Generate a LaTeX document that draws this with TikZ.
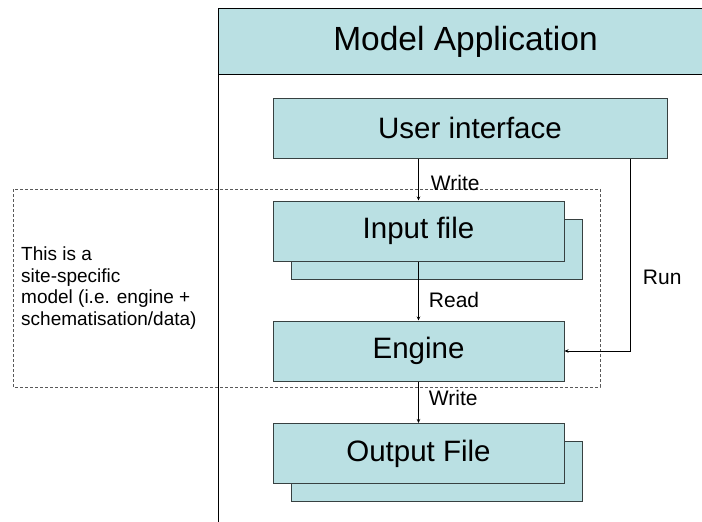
\documentclass[tikz,border=0pt]{standalone}
\usepackage{fontspec}
\setmainfont{Liberation Sans}
\usetikzlibrary{shadows,arrows.meta}
\definecolor{boxfill}{RGB}{186,224,227}
\definecolor{boxline}{RGB}{55,65,65}

\begin{document}
\begin{tikzpicture}[x=1pt,y=-1pt,>={Stealth[length=4pt,width=3.5pt]},
	headbox/.style={draw=black,fill=boxfill,line width=1pt,minimum width=494pt,minimum height=66pt,inner sep=0pt,anchor=north west,font=\fontsize{33.5}{40}\selectfont},
	filebox/.style={draw=boxline,fill=boxfill,line width=1pt,minimum width=291pt,minimum height=60pt,inner sep=0pt,font=\fontsize{29.5}{35}\selectfont},
	stackbox/.style={filebox,copy shadow={shadow xshift=18pt,shadow yshift=-18pt}},
	flow/.style={->,line width=0.9pt},
	lbl/.style={font=\fontsize{21}{25}\selectfont,inner sep=2pt}]
	\useasboundingbox (0,0) rectangle (702,522);
	
	%site-specific model frame
	\draw[gray!70!black,line width=0.8pt,dash pattern=on 3pt off 2pt] (13,189) rectangle (600,387);
	\node[align=left,anchor=west,inner sep=0pt,font=\fontsize{19}{21.7}\selectfont] (note) at (21,288)
		{This is a\\site-specific\\model (i.e. engine +\\schematisation/data)};
	
	%application header and frame
	\node[headbox] (app) at (218,8) {Model Application};
	\coordinate (framebottom) at (218,522);
	\draw[line width=1pt] (app.north west)--(framebottom);
	
	%boxes
	\node[filebox,minimum width=394pt] (ui) at (470,128) {User interface};
	\node[stackbox] (input)  at (418.5,231) {Input file};
	\node[filebox]  (engine) at (418.5,351) {Engine};
	\node[stackbox] (output) at (418.5,453.5) {Output File};
	
	%arrows
	\draw[flow] (ui.south -| input.north)--node[lbl,right=10pt,pos=0.58]{Write} (input.north);
	\draw[flow] (input.south)--node[lbl,right=8pt,pos=0.65]{Read} (engine.north);
	\draw[flow] (engine.south)--node[lbl,right=8pt,pos=0.4]{Write} (output.north);
	\draw[flow] ([xshift=-37pt]ui.south east) |- node[lbl,right=10pt,pos=0.31]{Run} (engine.east);
\end{tikzpicture}
\end{document}
